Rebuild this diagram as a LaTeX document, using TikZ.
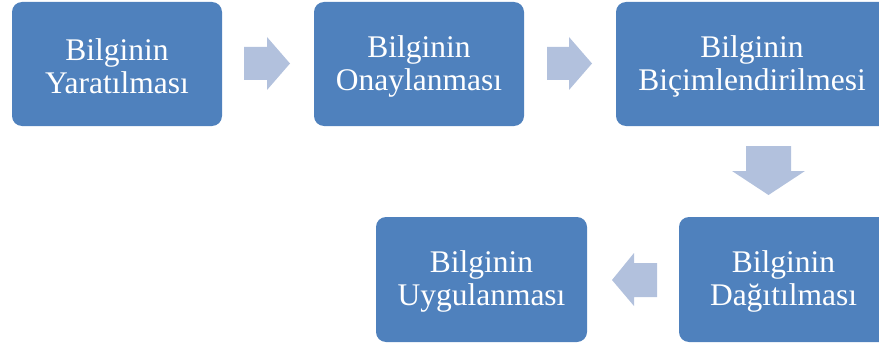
\documentclass[tikz,border=0pt]{standalone}
\usepackage{fontspec}
\setmainfont{Liberation Serif}
\definecolor{stepblue}{HTML}{4F81BD}
\definecolor{arrowblue}{HTML}{B2C1DD}
\begin{document}
\begin{tikzpicture}[x=1pt,y=-1pt,
  stepbox/.style={fill=stepblue,rounded corners=10pt},
  steptext/.style={text=white,align=center,inner sep=0pt,
    font=\fontsize{31.5}{33}\selectfont},
  flowarrow/.style={fill=arrowblue}]
\useasboundingbox (0,0) rectangle (879,345);
\clip (0,0) rectangle (879,345);

% process boxes
\fill[stepbox] (12,2) rectangle (222,126);
\fill[stepbox] (314,2) rectangle (524,126);
\fill[stepbox] (616,2) rectangle (889,126);
\fill[stepbox] (679,217) rectangle (889,342);
\fill[stepbox] (376,217) rectangle (587,342);

\node[steptext] (yarat) at (117,66) {Bilginin\\Yaratılması};
\node[steptext] (onay)  at (419,66) {Bilginin\\Onaylanması};
\node[steptext] (bicim) at (752,66) {Bilginin\\Biçimlendirilmesi};
\node[steptext] (dagit) at (783.5,281) {Bilginin\\Dağıtılması};
\node[steptext] (uygul) at (481.5,281) {Bilginin\\Uygulanması};

% block arrows between the steps
\fill[flowarrow] (244,47) -- (267,47) -- (267,37) -- (290,63.5)
  -- (267,90) -- (267,80) -- (244,80) -- cycle;
\fill[flowarrow] (547,47) -- (569,47) -- (569,37) -- (592,63.5)
  -- (569,90) -- (569,80) -- (547,80) -- cycle;
\fill[flowarrow] (746,146) -- (791,146) -- (791,171) -- (805,171)
  -- (768.5,195) -- (732,171) -- (746,171) -- cycle;
\fill[flowarrow] (657,263) -- (634,263) -- (634,253) -- (612,280)
  -- (634,306) -- (634,297) -- (657,297) -- cycle;
\end{tikzpicture}
\end{document}
